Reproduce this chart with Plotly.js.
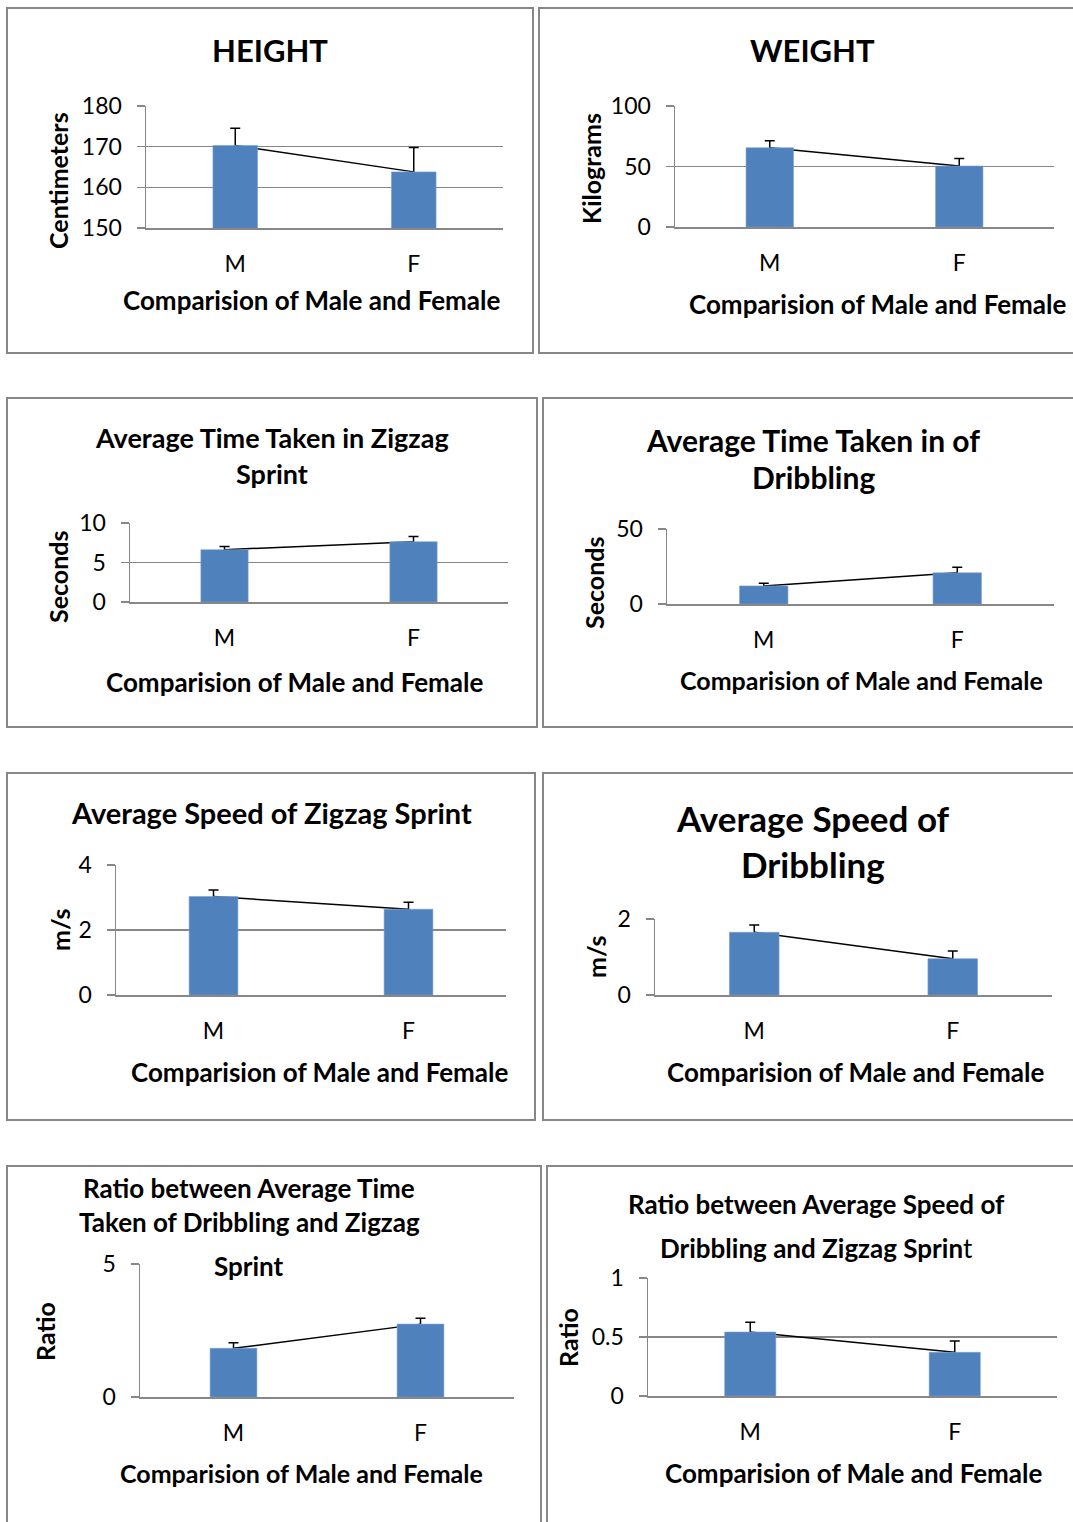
<!DOCTYPE html>
<html>
<head>
<meta charset="utf-8">
<script src="https://cdn.plot.ly/plotly-3.0.1.min.js"></script>
<style>
html,body{margin:0;padding:0;background:#fff;}
#chart{width:1073px;height:1522px;}
</style>
</head>
<body>
<div id="chart"></div>
<script>
// ---- data ----
const categories = ['M', 'F'];

const heightMean = [170.3, 163.8];
const heightErr = [4.2, 6.0];
const heightTicks = [150, 160, 170, 180];

const weightMean = [65.5, 50.4];
const weightErr = [5.7, 6.3];
const weightTicks = [0, 50, 100];

const zigzagTimeMean = [6.62, 7.63];
const zigzagTimeErr = [0.42, 0.67];
const zigzagTimeTicks = [0, 5, 10];

const dribbleTimeMean = [12.05, 20.75];
const dribbleTimeErr = [1.8, 3.8];
const dribbleTimeTicks = [0, 50];

const zigzagSpeedMean = [3.03, 2.64];
const zigzagSpeedErr = [0.2, 0.21];
const zigzagSpeedTicks = [0, 2, 4];

const dribbleSpeedMean = [1.65, 0.955];
const dribbleSpeedErr = [0.19, 0.2];
const dribbleSpeedTicks = [0, 2];

const timeRatioMean = [1.83, 2.74];
const timeRatioErr = [0.21, 0.22];
const timeRatioTicks = [0, 5];

const speedRatioMean = [0.542, 0.37];
const speedRatioErr = [0.082, 0.096];
const speedRatioTicks = [0, 0.5, 1];

const xTitleText = 'Comparision of Male and Female';

// ---- layout per panel (page pixels) ----
const W = 1073, H = 1522;
const FONT = 'Lato, "Open Sans", sans-serif';
const panels = [
  {box:[7,8,533,353], plot:[146,106,503,228], mean:heightMean, err:heightErr, ticks:heightTicks,
   titles:[['HEIGHT',270,50,31]], xt:[311,300,26], yt:['Centimeters',58,181]},
  {box:[539,8,1090,353], plot:[675,106,1054,227], mean:weightMean, err:weightErr, ticks:weightTicks,
   titles:[['WEIGHT',812,50,31]], xt:[878,304,26], yt:['Kilograms',591,169]},
  {box:[7,398,537,727], plot:[130,523,508,602], mean:zigzagTimeMean, err:zigzagTimeErr, ticks:zigzagTimeTicks,
   titles:[['Average Time Taken in Zigzag',272,437,27],['Sprint',272,473,27]], xt:[294,682,26], yt:['Seconds',58,577]},
  {box:[543,398,1090,727], plot:[667,529,1054,604], mean:dribbleTimeMean, err:dribbleTimeErr, ticks:dribbleTimeTicks,
   titles:[['Average Time Taken in of',813,440,30],['Dribbling',813,477,30]], xt:[861,680,25], yt:['Seconds',594,583]},
  {box:[7,773,535,1120], plot:[116,865,506,995], mean:zigzagSpeedMean, err:zigzagSpeedErr, ticks:zigzagSpeedTicks,
   titles:[['Average Speed of Zigzag Sprint',271,813,29]], xt:[319,1072,26], yt:['m/s',60,930]},
  {box:[543,773,1090,1120], plot:[655,919,1052,995], mean:dribbleSpeedMean, err:dribbleSpeedErr, ticks:dribbleSpeedTicks,
   titles:[['Average Speed of',813,818,35],['Dribbling',813,864,35]], xt:[855,1072,26], yt:['m/s',596,957]},
  {box:[7,1166,541,1540], plot:[140,1264,514,1397], mean:timeRatioMean, err:timeRatioErr, ticks:timeRatioTicks,
   titles:[['Ratio between Average Time',249,1188,26],['Taken of Dribbling and Zigzag',249,1222,26],['Sprint',249,1266,26]], xt:[301,1473,25], yt:['Ratio',45,1332]},
  {box:[547,1166,1090,1540], plot:[648,1278,1057,1396], mean:speedRatioMean, err:speedRatioErr, ticks:speedRatioTicks,
   titles:[['Ratio between Average Speed of',816,1204,26],['Dribbling and Zigzag Sprin</b>t<b>',816,1248,26]], xt:[853,1473,26], yt:['Ratio',568,1338]}
];

const GRID = '#878787';
const BAR = '#4f81bd';
const fx = v => v / W;
const fy = v => 1 - v / H;

const data = [];
const layout = {
  width: W, height: H,
  margin: {l:0, r:0, t:0, b:0},
  paper_bgcolor: '#fff', plot_bgcolor: 'rgba(0,0,0,0)',
  showlegend: false,
  font: {family: FONT, color: '#000'},
  annotations: [], shapes: []
};

panels.forEach((p, i) => {
  const n = i + 1, o = i + 9;
  const xb = 'xaxis' + (n === 1 ? '' : n), yb = 'yaxis' + (n === 1 ? '' : n);
  const xid = 'x' + (n === 1 ? '' : n), yid = 'y' + (n === 1 ? '' : n);
  const range = [p.ticks[0], p.ticks[p.ticks.length - 1]];
  const dx = [fx(p.plot[0]), fx(p.plot[2])];
  const dy = [fy(p.plot[3]), fy(p.plot[1])];

  layout[xb] = {
    domain: dx, anchor: yid, type: 'category', range: [-0.5, 1.5],
    showgrid: false, zeroline: false, showline: true, linecolor: GRID, linewidth: 1.5,
    ticks: '', ticklabelstandoff: 15,
    tickfont: {family: FONT, size: 23, color: '#000'}, fixedrange: true
  };
  layout[yb] = {
    domain: dy, anchor: xid, range: range, tickvals: p.ticks,
    showgrid: true, gridcolor: GRID, gridwidth: 1.5, zeroline: false,
    showline: true, linecolor: GRID, linewidth: 1.5,
    ticks: 'outside', ticklen: 8, tickcolor: GRID, tickwidth: 1.5, ticklabelstandoff: 10,
    tickfont: {family: FONT, size: 23, color: '#000'}, fixedrange: true
  };
  layout['xaxis' + o] = {
    overlaying: xid, anchor: 'y' + o, type: 'category', range: [-0.5, 1.5],
    visible: false, fixedrange: true
  };
  layout['yaxis' + o] = {
    overlaying: yid, anchor: 'x' + o, range: range, visible: false, fixedrange: true
  };

  // line + error bars underneath the bars (lower half hidden by the bars)
  data.push({
    type: 'scatter', mode: 'lines', x: categories, y: p.mean,
    xaxis: xid, yaxis: yid, line: {color: '#000', width: 1.5}, hoverinfo: 'skip',
    error_y: {type: 'data', symmetric: true, array: p.err,
              color: '#000', thickness: 1.5, width: 5}
  });
  data.push({
    type: 'bar', x: categories, y: p.mean, width: 0.25,
    xaxis: 'x' + o, yaxis: 'y' + o,
    marker: {color: BAR, line: {color: '#7a9fcf', width: 0.6}}
  });

  // box border
  layout.shapes.push({
    type: 'rect', xref: 'paper', yref: 'paper',
    x0: fx(p.box[0]), x1: fx(p.box[2]), y0: fy(p.box[3]), y1: fy(p.box[1]),
    line: {color: GRID, width: 2}, fillcolor: 'rgba(0,0,0,0)'
  });

  // titles
  p.titles.forEach(t => {
    layout.annotations.push({
      xref: 'paper', yref: 'paper', x: fx(t[1]), y: fy(t[2]),
      xanchor: 'center', yanchor: 'middle', showarrow: false,
      text: '<b>' + t[0] + '</b>', font: {family: FONT, size: t[3], color: '#000'}
    });
  });
  // x title
  layout.annotations.push({
    xref: 'paper', yref: 'paper', x: fx(p.xt[0]), y: fy(p.xt[1]),
    xanchor: 'center', yanchor: 'middle', showarrow: false,
    text: '<b>' + xTitleText + '</b>', font: {family: FONT, size: p.xt[2], color: '#000'}
  });
  // y title
  layout.annotations.push({
    xref: 'paper', yref: 'paper', x: fx(p.yt[1]), y: fy(p.yt[2]),
    xanchor: 'center', yanchor: 'middle', showarrow: false, textangle: -90,
    text: '<b>' + p.yt[0] + '</b>', font: {family: FONT, size: 25, color: '#000'}
  });
});

Plotly.newPlot('chart', data, layout, {staticPlot: true, displayModeBar: false});
</script>
</body>
</html>
